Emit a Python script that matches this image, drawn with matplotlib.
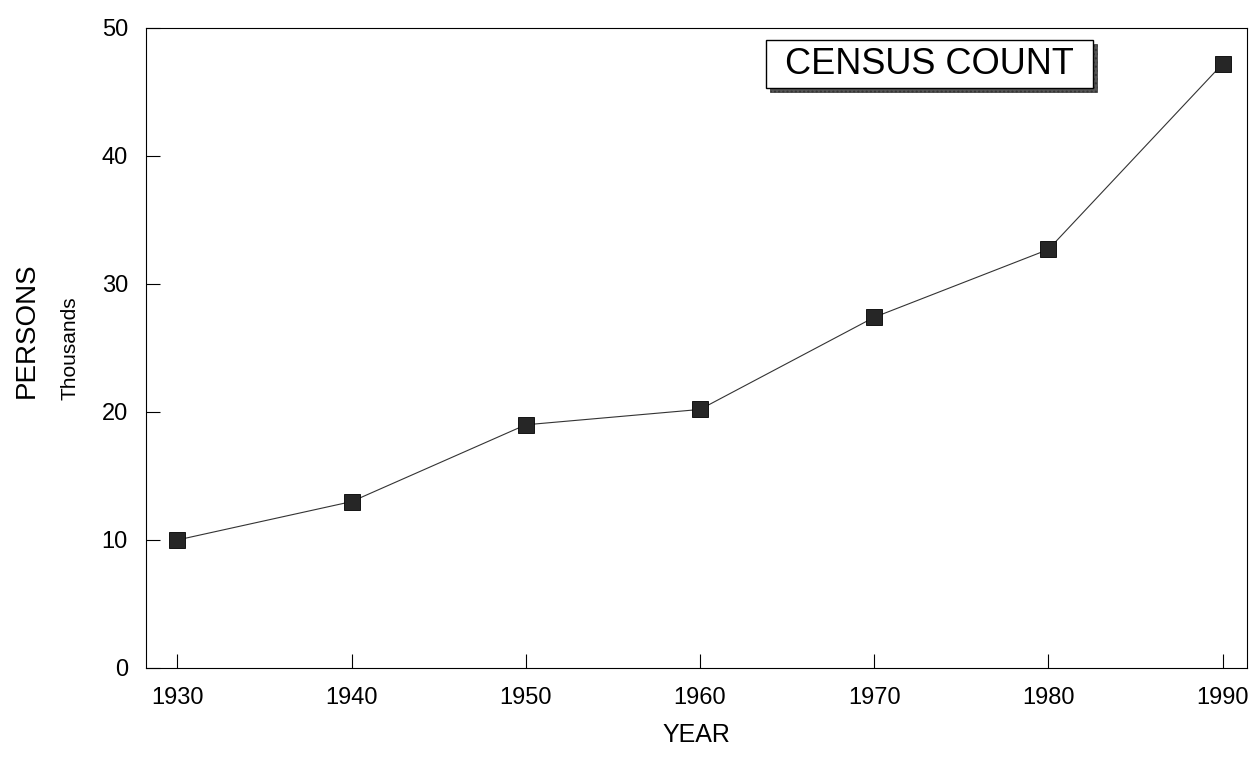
import matplotlib.pyplot as plt
from matplotlib.patches import Rectangle

plt.rcParams['font.family'] = ['Liberation Sans', 'DejaVu Sans']

years = [1930, 1940, 1950, 1960, 1970, 1980, 1990]
persons = [10.0, 13.0, 19.0, 20.2, 27.4, 32.7, 47.2]
y_ticks = [0, 10, 20, 30, 40, 50]
title_text = 'CENSUS COUNT'

W, H = 1258, 772
fig = plt.figure(figsize=(W / 100, H / 100), dpi=100)
ax = fig.add_axes([146 / W, 1 - 668 / H, (1247 - 146) / W, (668 - 28) / H])

ax.plot(years, persons, color='#333333', linewidth=0.8,
        marker='s', markersize=11.5, markerfacecolor='#262626',
        markeredgecolor='black', markeredgewidth=0.6)

ax.set_xlim(1928.2, 1991.4)
ax.set_ylim(0, 50)
ax.set_xticks(years)
ax.set_yticks(y_ticks)
ax.tick_params(axis='both', direction='in', length=10, width=0.8,
               labelsize=17, top=False, right=False)
ax.tick_params(axis='x', pad=14)
ax.tick_params(axis='y', pad=13)
for s in ax.spines.values():
    s.set_linewidth(0.8)

ax.set_xlabel('YEAR', fontsize=18, labelpad=10)
fig.text(27 / W, 1 - 330 / H, 'PERSONS', rotation=90, fontsize=20,
         ha='center', va='center')
fig.text(70 / W, 1 - 348 / H, 'Thousands', rotation=90, fontsize=15,
         ha='center', va='center')

# boxed title with dotted shadow
bx0, bx1, by0, by1 = 766, 1093, 40, 88
shadow = Rectangle(((bx0 + 4) / W, 1 - (by1 + 4) / H), (bx1 - bx0) / W, (by1 - by0) / H,
                   transform=fig.transFigure, facecolor='#555555', edgecolor='#333333',
                   hatch='....', linewidth=0.5, zorder=5)
box = Rectangle((bx0 / W, 1 - by1 / H), (bx1 - bx0) / W, (by1 - by0) / H,
                transform=fig.transFigure, facecolor='white', edgecolor='black',
                linewidth=1.0, zorder=6)
fig.patches.extend([shadow, box])
fig.text((bx0 + bx1) / 2 / W, 1 - (by0 + by1) / 2 / H, title_text, fontsize=26,
         ha='center', va='center', zorder=7)

fig.savefig('out.png', dpi=100)
